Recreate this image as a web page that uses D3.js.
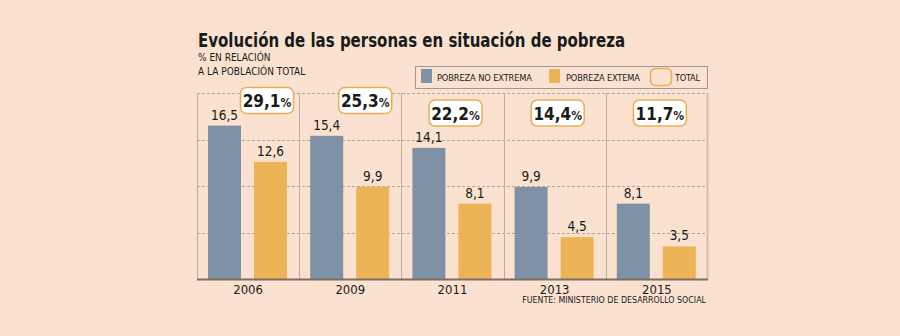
<!DOCTYPE html>
<meta charset="utf-8">
<style>
body { margin: 0; background: #fbe2d0; }
svg { display: block; }
text { font-family: "DejaVu Sans Condensed", "DejaVu Sans", sans-serif; fill: #1a1a1a; }
.grid line { stroke: #b8a696; stroke-dasharray: 3,2; }
.sep { stroke: #bcaea2; stroke-width: 1px; }
</style>
<svg width="900" height="336"></svg>
<script src="https://d3js.org/d3.v7.min.js"></script>
<script>

var years = ["2006", "2009", "2011", "2013", "2015"];
var noExtrema = [16.5, 15.4, 14.1, 9.9, 8.1];
var extrema = [12.6, 9.9, 8.1, 4.5, 3.5];
var total = [29.1, 25.3, 22.2, 14.4, 11.7];
var gridTicks = [5, 10, 15, 20];
var seriesNames = ["POBREZA NO EXTREMA", "POBREZA EXTEMA", "TOTAL"];

var blue = "#7f92a5", orange = "#edb357", boxStroke = "#e9ae55";
var fmt = function(v) { return d3.format(".1f")(v).replace(".", ","); };

var svg = d3.select("svg");
svg.append("rect").attr("width", 900).attr("height", 336).attr("fill", "#fbe2d0");

var plotLeft = 197, plotRight = 708, plotTop = 93, plotBottom = 279;

var x = d3.scaleBand().domain(years).range([plotLeft, plotRight]);
var y = d3.scaleLinear().domain([0, 20]).range([plotBottom, plotTop]);

// title and subtitle
svg.append("text")
    .attr("x", 198).attr("y", 47)
    .attr("textLength", 427).attr("lengthAdjust", "spacingAndGlyphs")
    .style("font-size", "19px").style("font-weight", "bold")
    .text("Evolución de las personas en situación de pobreza");

svg.append("text").attr("x", 198).attr("y", 61).style("font-size", "10px").text("% EN RELACIÓN");
svg.append("text").attr("x", 198).attr("y", 75).style("font-size", "10px").text("A LA POBLACIÓN TOTAL");

// legend
var lg = svg.append("g");
lg.append("rect").attr("x", 415.5).attr("y", 66.5).attr("width", 292).attr("height", 22)
    .attr("fill", "none").attr("stroke", "#9a9a9a");
lg.append("rect").attr("x", 421).attr("y", 69).attr("width", 11).attr("height", 14).attr("fill", blue);
lg.append("text").attr("x", 437).attr("y", 81).style("font-size", "9.2px")
    .attr("textLength", 95).text(seriesNames[0]);
lg.append("rect").attr("x", 549).attr("y", 69).attr("width", 11).attr("height", 14).attr("fill", orange);
lg.append("text").attr("x", 566).attr("y", 81).style("font-size", "9.2px")
    .attr("textLength", 74).text(seriesNames[1]);
lg.append("rect").attr("x", 650.5).attr("y", 68.5).attr("width", 21).attr("height", 17).attr("rx", 5)
    .attr("fill", "none").attr("stroke", boxStroke).attr("stroke-width", 1.5);
lg.append("text").attr("x", 675).attr("y", 81).style("font-size", "9.2px")
    .attr("textLength", 25).text(seriesNames[2]);

// gridlines
svg.append("g").attr("class", "grid")
  .selectAll("line").data(gridTicks).enter().append("line")
    .attr("x1", plotLeft).attr("x2", plotRight)
    .attr("y1", function(d) { return Math.round(y(d)) + 0.5; })
    .attr("y2", function(d) { return Math.round(y(d)) + 0.5; });

// column separators
svg.append("g").selectAll("line").data(years).enter().append("line")
    .attr("class", "sep")
    .attr("x1", function(d) { return Math.round(x(d)) + 0.5; })
    .attr("x2", function(d) { return Math.round(x(d)) + 0.5; })
    .attr("y1", plotTop).attr("y2", plotBottom);
svg.append("line").attr("x1", plotRight - 0.5).attr("x2", plotRight - 0.5)
    .attr("y1", plotTop).attr("y2", plotBottom)
    .attr("stroke", "#cfc0b4").attr("stroke-width", 2);

var bw = 33;
var col = svg.selectAll(".col").data(years).enter().append("g")
    .attr("class", "col")
    .attr("transform", function(d) { return "translate(" + x(d) + ",0)"; });

col.append("rect")
    .attr("x", 11).attr("width", bw)
    .attr("y", function(d, i) { return y(noExtrema[i]); })
    .attr("height", function(d, i) { return plotBottom - y(noExtrema[i]); })
    .attr("fill", blue);

col.append("rect")
    .attr("x", 57).attr("width", bw)
    .attr("y", function(d, i) { return y(extrema[i]); })
    .attr("height", function(d, i) { return plotBottom - y(extrema[i]); })
    .attr("fill", orange);

col.append("text")
    .attr("x", 11 + bw / 2).attr("y", function(d, i) { return y(noExtrema[i]) - 6; })
    .attr("text-anchor", "middle").style("font-size", "13.5px")
    .text(function(d, i) { return fmt(noExtrema[i]); });

col.append("text")
    .attr("x", 57 + bw / 2).attr("y", function(d, i) { return y(extrema[i]) - 6; })
    .attr("text-anchor", "middle").style("font-size", "13.5px")
    .text(function(d, i) { return fmt(extrema[i]); });

// total boxes: tall columns push the box up and to the right
var box = col.append("g")
    .attr("transform", function(d, i) {
      var high = noExtrema[i] > 15;
      var cx = high ? (i === 0 ? 70 : 66) : x.bandwidth() / 2 + 3;
      var ty = high ? 87 : 99.5;
      return "translate(" + cx + "," + ty + ")";
    });

box.append("rect")
    .attr("x", -26.5).attr("y", 0.5).attr("width", 53).attr("height", 26).attr("rx", 6)
    .attr("fill", "#fff").attr("stroke", boxStroke).attr("stroke-width", 1.5);

var bt = box.append("text").attr("x", 0).attr("y", 20).attr("text-anchor", "middle")
    .style("font-weight", "bold");
bt.append("tspan").style("font-size", "17px").text(function(d, i) { return fmt(total[i]); });
bt.append("tspan").style("font-size", "12px").text("%");

// baseline and year labels
svg.append("line").attr("x1", plotLeft).attr("x2", plotRight)
    .attr("y1", plotBottom + 0.5).attr("y2", plotBottom + 0.5)
    .attr("stroke", "#7b6e66").attr("stroke-width", 2);

col.append("text")
    .attr("x", x.bandwidth() / 2).attr("y", 293.5)
    .attr("text-anchor", "middle").style("font-size", "13px")
    .text(function(d) { return d; });

svg.append("text")
    .attr("x", 706).attr("y", 303).attr("text-anchor", "end")
    .style("font-size", "8.8px")
    .text("FUENTE: MINISTERIO DE DESARROLLO SOCIAL");

</script>
